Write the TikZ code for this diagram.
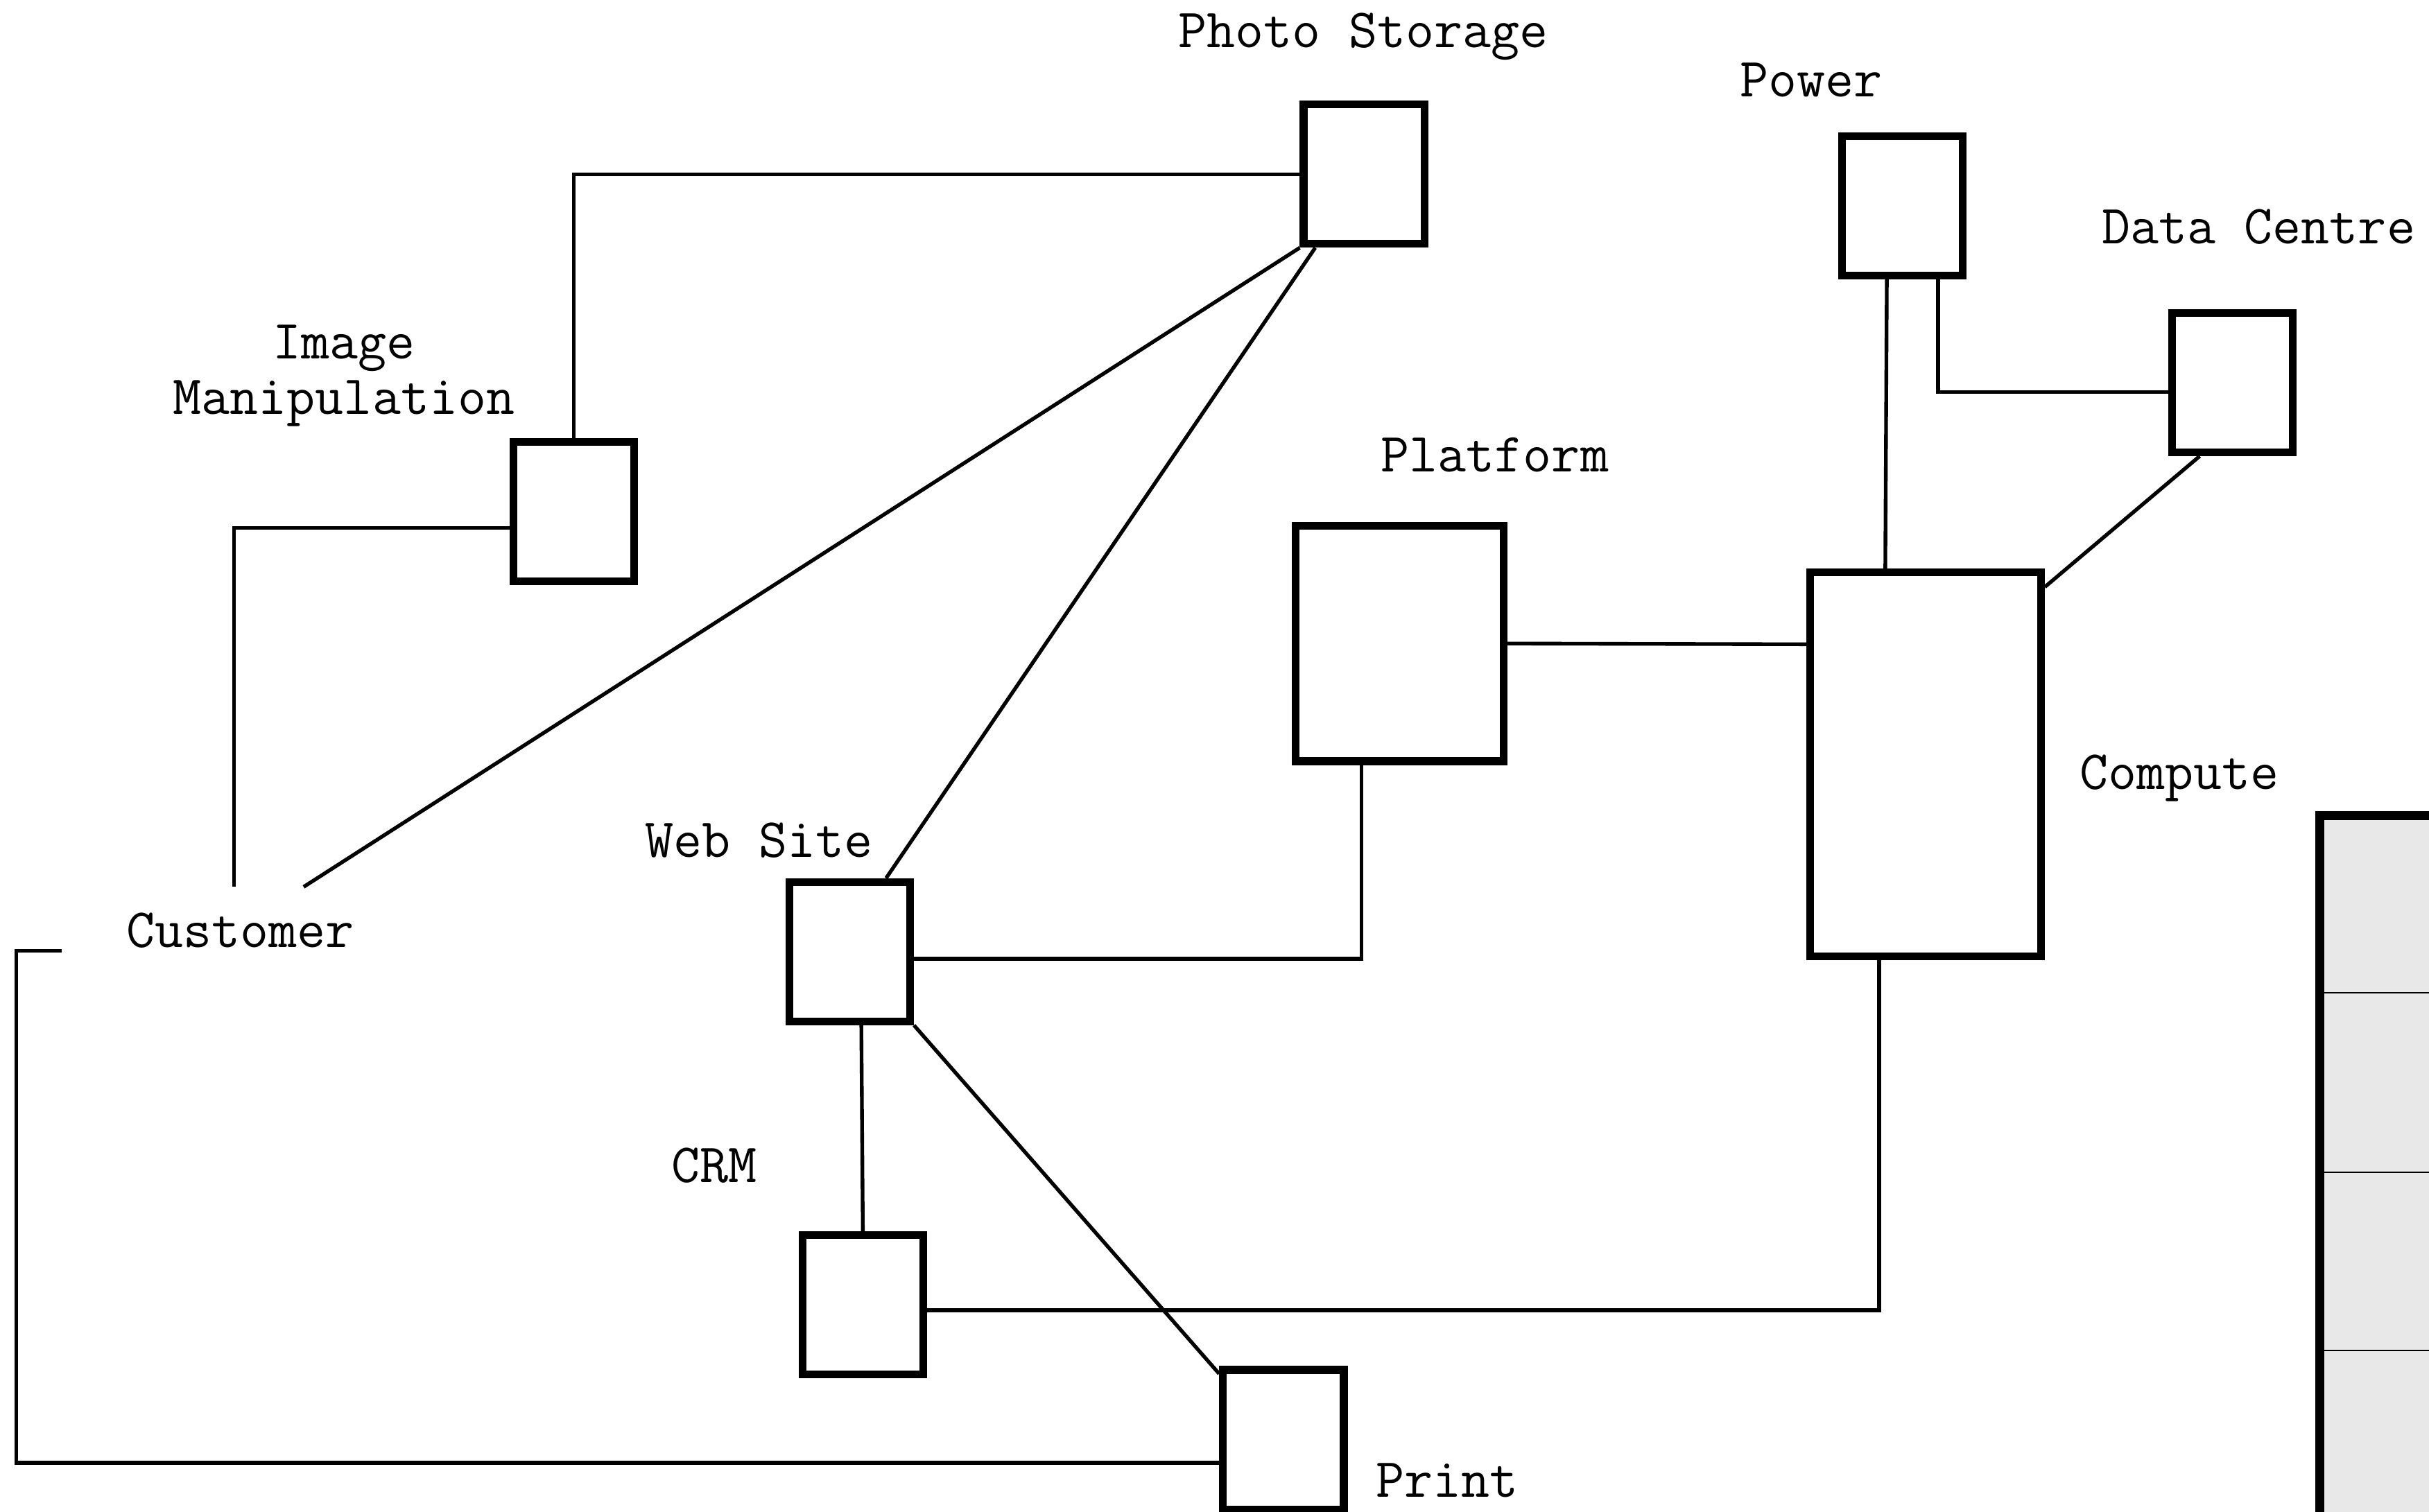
\documentclass[tikz,border=0pt]{standalone}
\usepackage{fontspec}
\usetikzlibrary{calc}
\definecolor{Panel}{HTML}{E8E8E8}

\begin{document}
\begin{tikzpicture}[
  sbox/.style={draw,line width=0.1cm,minimum width=1.56cm,minimum height=1.80cm,inner sep=0pt},
  lbl/.style={font=\ttfamily\fontsize{20.3}{20.5}\selectfont,anchor=base,inner sep=0pt,align=center},
  link/.style={line width=0.048cm}
]
\useasboundingbox (0,0) rectangle (31.36,19.52);
% grey panel cut by the right edge
\begin{scope}
\clip (0,0) rectangle (31.36,19.52);
\fill[Panel] (29.95,-1) rectangle (32,8.99);
\foreach \y in {6.70,4.38,2.08}
  \draw[line width=0.02cm] (29.95,\y) -- (32,\y);
\draw[line width=0.12cm] (29.95,-1) -- (29.95,8.99) -- (32,8.99);
\end{scope}

\node[sbox] (photo) at (17.61,17.27) {};
\node[sbox] (power) at (24.56,16.86) {};
\node[sbox] (dc) at (28.82,14.58) {};
\node[sbox] (imgman) at (7.41,12.91) {};
\node[sbox,minimum width=2.68cm,minimum height=3.04cm] (platform) at (18.07,11.21) {};
\node[sbox,minimum width=2.98cm,minimum height=4.96cm] (compute) at (24.86,9.65) {};
\node[sbox] (web) at (10.97,7.23) {};
\node[sbox] (crm) at (11.14,2.67) {};
\node[sbox] (print) at (16.57,0.93) {};

\node[lbl] (photolbl) at (17.60,18.91) {Photo Storage};
\node[lbl] (powerlbl) at (23.38,18.27) {Power};
\node[lbl] (dclbl) at (29.16,16.37) {Data Centre};
\node[lbl] (imgmanlbl) at (4.44,14.17) {Image\\Manipulation};
\node[lbl] (platformlbl) at (19.30,13.43) {Platform};
\node[lbl] (computelbl) at (28.14,9.33) {Compute};
\node[lbl] (weblbl) at (9.80,8.45) {Web Site};
\node[lbl] (crmlbl) at (9.22,4.25) {CRM};
\node[lbl] (printlbl) at (18.68,0.19) {Print};
\node[lbl,anchor=center,minimum width=4.6cm,minimum height=1.12cm] (customer) at (3.10,7.50) {Customer};

\draw[link] (photo.west) -- (imgman.north |- photo.west) -- (imgman.north);
\draw[link] ([yshift=-0.21cm]imgman.west) -| ([xshift=-0.08cm]customer.north);
\draw[link] (photo.south west) -- ([xshift=0.82cm]customer.north);
\draw[link] ([xshift=-0.63cm]photo.south) -- ([xshift=0.47cm]web.north);
\draw[link] ([yshift=-0.09cm]web.east) -| ([xshift=-0.49cm]platform.south);
\draw[link] (platform.east) -- ([yshift=1.55cm]compute.west);
\draw[link] ([xshift=-0.2cm]power.south) -- ([xshift=-0.52cm]compute.north);
\draw[link] ([xshift=0.46cm]power.south) |- ([yshift=-0.12cm]dc.west);
\draw[link] ([xshift=-0.42cm]dc.south) -- ([yshift=-0.24cm]compute.north east);
\draw[link] ([xshift=-0.6cm]compute.south) |- ([yshift=-0.07cm]crm.east);
\draw[link] ([xshift=0.15cm]web.south) -- (crm.north);
\draw[link] (web.south east) -- ([yshift=-0.1cm]print.north west);
\draw[link] ([yshift=-0.26cm]customer.west) -- ++(-0.58,0) |- ([yshift=-0.3cm]print.west);
\end{tikzpicture}
\end{document}
